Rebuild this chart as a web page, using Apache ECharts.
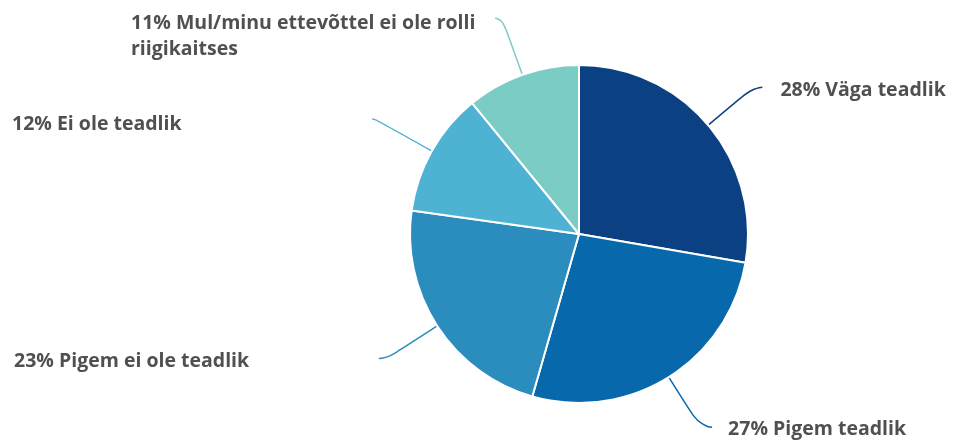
<!DOCTYPE html>
<html>
<head>
<meta charset="utf-8">
<script src="https://cdn.jsdelivr.net/npm/echarts@6/dist/echarts.min.js"></script>
<style>
html,body{margin:0;padding:0;background:#fff;}
#chart{width:953px;height:441px;}
</style>
</head>
<body>
<div id="chart"></div>
<script>
var categories = ['Väga teadlik', 'Pigem teadlik', 'Pigem ei ole teadlik', 'Ei ole teadlik', 'Mul/minu ettevõttel ei ole rolli riigikaitses'];
var values = [28, 27, 23, 12, 11];
var colors = ['#0b4083', '#0868ac', '#2b8cbe', '#4eb3d3', '#7bccc4'];

var labelCfg = [
  {alignTo: 'none', distanceToLabelLine: 18, padding: [6, 0, 0, 0]},
  {alignTo: 'none', distanceToLabelLine: 16, padding: [5, 0, 0, 0]},
  {alignTo: 'edge', edgeDistance: 14, padding: [6, 0, 0, 0]},
  {alignTo: 'edge', edgeDistance: 12, padding: [11, 0, 0, 0]},
  {alignTo: 'edge', edgeDistance: 131, padding: [36, 0, 0, 0], width: 365, overflow: 'break'}
];
var lineCfg = [
  {length: 59, length2: 9},
  {length: 59, length2: 12},
  {length: 60, length2: 8},
  {length: 65, length2: 3},
  {length: 60, length2: 7}
];

var textStyle = {
  fontFamily: 'Open Sans',
  fontWeight: 'bold',
  fontSize: 19.5,
  lineHeight: 26,
  color: '#505050'
};

var data = categories.map(function (c, i) {
  return {
    name: c,
    value: values[i],
    itemStyle: {color: colors[i]},
    label: labelCfg[i],
    labelLine: lineCfg[i]
  };
});

var chart = echarts.init(document.getElementById('chart'));
chart.setOption({
  animation: false,
  series: [{
    type: 'pie',
    left: 0, top: 0, right: 0, bottom: 0,
    center: [579, 234],
    radius: 169,
    startAngle: 90,
    clockwise: true,
    avoidLabelOverlap: false,
    itemStyle: {borderColor: '#fff', borderWidth: 2},
    label: Object.assign({
      show: true,
      formatter: '{t|{c}% {b}}',
      rich: {t: textStyle},
      bleedMargin: 0
    }, textStyle),
    labelLine: {
      show: true,
      smooth: 0.7,
      lineStyle: {width: 1.5}
    },
    data: data
  }]
});
</script>
</body>
</html>
